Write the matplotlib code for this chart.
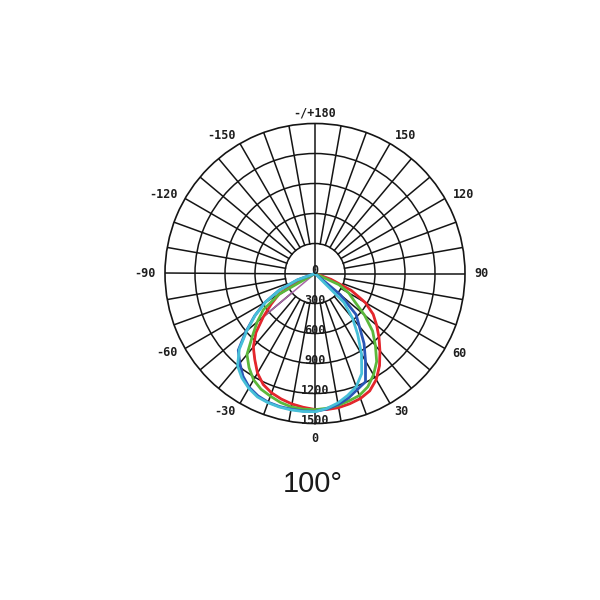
import numpy as np
import matplotlib
matplotlib.use("Agg")
import matplotlib.pyplot as plt

# ---- data -------------------------------------------------------------
angles = [-75, -70, -65, -60, -55, -50, -45, -40, -35, -30, -25, -20, -15, -10, -5,
          0, 5, 10, 15, 20, 25, 30, 35, 40, 45, 50, 55, 60, 65, 70, 75]

purple = [0, 0, 0, 0, 0, 670, 835, 955, 1050, 1150, 1225, 1270, 1300, 1325, 1343,
          1360, 1366, 1362, 1348, 1330, 1295, 1225, 1125, 1010, 905, 805, 710, 580, 400, 170, 0]
red = [0, 0, 200, 420, 535, 675, 835, 960, 1050, 1150, 1225, 1270, 1300, 1325, 1343,
       1360, 1366, 1362, 1348, 1330, 1295, 1225, 1125, 1010, 905, 805, 710, 580, 400, 170, 0]
green = [0, 0, 0, 410, 628, 755, 885, 1058, 1150, 1228, 1277, 1305, 1335, 1355, 1362,
         1362, 1353, 1338, 1318, 1298, 1250, 1170, 1075, 940, 815, 645, 480, 390, 265, 0, 0]
blue = [0, 185, 395, 575, 735, 900, 1085, 1170, 1255, 1315, 1350, 1370, 1377, 1378, 1380,
        1380, 1360, 1330, 1290, 1235, 1195, 1010, 855, 690, 580, 330, 0, 0, 0, 0, 0]
cyan = [0, 190, 390, 570, 730, 890, 1070, 1205, 1275, 1325, 1362, 1375, 1382, 1385, 1385,
        1382, 1355, 1315, 1262, 1205, 1105, 930, 745, 585, 410, 0, 0, 0, 0, 0, 0]

series = [("purple", purple, "#a866a8", 1.1),
          ("red", red, "#e4262c", 2.0),
          ("green", green, "#5bb83c", 2.0),
          ("blue", blue, "#2a55b5", 2.0),
          ("cyan", cyan, "#46bfd8", 2.0)]

ring_values = [0, 300, 600, 900, 1200, 1500]
angle_label_values = [0, 30, 60, 90, 120, 150, 180, -150, -120, -90, -60, -30]
angle_label_texts = ["0", "30", "60", "90", "120", "150", "-/+180",
                     "-150", "-120", "-90", "-60", "-30"]
title = "100°"

# ---- figure -----------------------------------------------------------
fig = plt.figure(figsize=(6, 6), dpi=100)
cx, cy = 315 / 600, 1 - 273.5 / 600
ax = fig.add_axes([cx - 0.25, cy - 0.25, 0.5, 0.5], projection="polar")
ax.set_theta_zero_location("S")
ax.set_theta_direction(1)
ax.set_ylim(0, 1500)

grid_col = "#151515"
glw = 1.1
ax.set_xticks([])
ax.set_yticks(ring_values[1:-1])
ax.set_yticklabels([])
ax.yaxis.grid(True, color=grid_col, linewidth=glw)
ax.xaxis.grid(False)
ax.spines["polar"].set_color(grid_col)
ax.spines["polar"].set_linewidth(1.2)
ax.tick_params(length=0)

# spokes
for a in range(0, 360, 10):
    t = np.deg2rad(a)
    r0 = 0 if a % 90 == 0 else 300
    ax.plot([t, t], [r0, 1500], color=grid_col, linewidth=glw, zorder=1)

# curves
th = np.deg2rad(angles)
for name, vals, col, lw in series:
    ax.plot(th, vals, color=col, linewidth=lw, zorder=3, solid_joinstyle="round")

mono = "DejaVu Sans Mono"
fs = 8.5
tcol = "#1e1e1e"
# radial labels
for v in ring_values:
    ax.text(0, v, str(v), ha="center", va="baseline", fontsize=fs, fontweight="bold",
            family=mono, color=tcol, zorder=4, clip_on=False)

# angle labels
for a, s in zip(angle_label_values, angle_label_texts):
    t = np.deg2rad(a)
    kw = dict(fontsize=fs, family=mono, fontweight="bold", color=tcol, clip_on=False)
    if a == 0:
        ax.text(t, 1590, s, ha="center", va="top", **kw)
    elif a == 180:
        ax.text(t, 1545, s, ha="center", va="bottom", **kw)
    elif a > 0:
        ax.text(t, 1590, s, ha="left", va="center", **kw)
    else:
        ax.text(t, 1590, s, ha="right", va="center", **kw)

fig.text(313 / 600, 1 - 484 / 600, title, ha="center", va="center",
         fontsize=21, family=["Liberation Sans", "DejaVu Sans"], color="#1a1a1a")

fig.savefig("out.png", dpi=100, facecolor="white")
